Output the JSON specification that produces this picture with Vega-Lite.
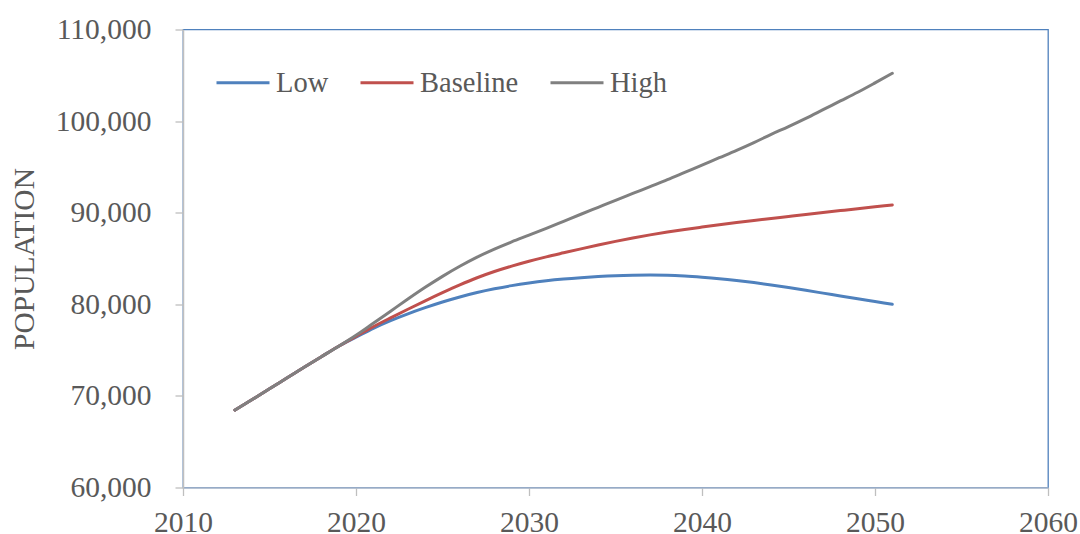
{
  "$schema": "https://vega.github.io/schema/vega-lite/v6.json",
  "autosize": "none",
  "width": 865,
  "height": 458,
  "padding": {"left": 183, "top": 29.5, "right": 32, "bottom": 46.5},
  "background": "white",
  "config": {
    "view": {"stroke": "#4F81BD", "strokeWidth": 1.3},
    "font": "Liberation Serif",
    "axis": {
      "labelFont": "Liberation Serif",
      "labelFontSize": 29.5,
      "labelColor": "#595959",
      "labelFlush": false,
      "titleFont": "Liberation Serif",
      "titleFontSize": 29.5,
      "titleFontWeight": "normal",
      "titleColor": "#595959",
      "grid": false,
      "tickColor": "#BFBFBF",
      "tickSize": 8,
      "tickWidth": 1.3,
      "domainWidth": 1.5
    },
    "legend": {
      "labelFont": "Liberation Serif",
      "labelFontSize": 28.5,
      "labelColor": "#595959"
    }
  },
  "data": {
    "values": [
      {"year": 2013, "series": "Low", "population": 68450},
      {"year": 2014, "series": "Low", "population": 69600},
      {"year": 2015, "series": "Low", "population": 70780},
      {"year": 2016, "series": "Low", "population": 71950},
      {"year": 2017, "series": "Low", "population": 73120},
      {"year": 2018, "series": "Low", "population": 74280},
      {"year": 2019, "series": "Low", "population": 75420},
      {"year": 2020, "series": "Low", "population": 76400},
      {"year": 2021, "series": "Low", "population": 77380},
      {"year": 2022, "series": "Low", "population": 78220},
      {"year": 2023, "series": "Low", "population": 78960},
      {"year": 2024, "series": "Low", "population": 79630},
      {"year": 2025, "series": "Low", "population": 80250},
      {"year": 2026, "series": "Low", "population": 80800},
      {"year": 2027, "series": "Low", "population": 81280},
      {"year": 2028, "series": "Low", "population": 81690},
      {"year": 2029, "series": "Low", "population": 82040},
      {"year": 2030, "series": "Low", "population": 82330},
      {"year": 2031, "series": "Low", "population": 82570},
      {"year": 2032, "series": "Low", "population": 82760},
      {"year": 2033, "series": "Low", "population": 82910},
      {"year": 2034, "series": "Low", "population": 83030},
      {"year": 2035, "series": "Low", "population": 83120},
      {"year": 2036, "series": "Low", "population": 83170},
      {"year": 2037, "series": "Low", "population": 83190},
      {"year": 2038, "series": "Low", "population": 83170},
      {"year": 2039, "series": "Low", "population": 83090},
      {"year": 2040, "series": "Low", "population": 82960},
      {"year": 2041, "series": "Low", "population": 82800},
      {"year": 2042, "series": "Low", "population": 82600},
      {"year": 2043, "series": "Low", "population": 82370},
      {"year": 2044, "series": "Low", "population": 82110},
      {"year": 2045, "series": "Low", "population": 81830},
      {"year": 2046, "series": "Low", "population": 81530},
      {"year": 2047, "series": "Low", "population": 81220},
      {"year": 2048, "series": "Low", "population": 80910},
      {"year": 2049, "series": "Low", "population": 80600},
      {"year": 2050, "series": "Low", "population": 80300},
      {"year": 2051, "series": "Low", "population": 80000},

      {"year": 2013, "series": "Baseline", "population": 68450},
      {"year": 2014, "series": "Baseline", "population": 69600},
      {"year": 2015, "series": "Baseline", "population": 70780},
      {"year": 2016, "series": "Baseline", "population": 71950},
      {"year": 2017, "series": "Baseline", "population": 73120},
      {"year": 2018, "series": "Baseline", "population": 74280},
      {"year": 2019, "series": "Baseline", "population": 75420},
      {"year": 2020, "series": "Baseline", "population": 76500},
      {"year": 2021, "series": "Baseline", "population": 77550},
      {"year": 2022, "series": "Baseline", "population": 78520},
      {"year": 2023, "series": "Baseline", "population": 79460},
      {"year": 2024, "series": "Baseline", "population": 80380},
      {"year": 2025, "series": "Baseline", "population": 81270},
      {"year": 2026, "series": "Baseline", "population": 82120},
      {"year": 2027, "series": "Baseline", "population": 82900},
      {"year": 2028, "series": "Baseline", "population": 83580},
      {"year": 2029, "series": "Baseline", "population": 84170},
      {"year": 2030, "series": "Baseline", "population": 84700},
      {"year": 2031, "series": "Baseline", "population": 85180},
      {"year": 2032, "series": "Baseline", "population": 85620},
      {"year": 2033, "series": "Baseline", "population": 86050},
      {"year": 2034, "series": "Baseline", "population": 86470},
      {"year": 2035, "series": "Baseline", "population": 86870},
      {"year": 2036, "series": "Baseline", "population": 87240},
      {"year": 2037, "series": "Baseline", "population": 87580},
      {"year": 2038, "series": "Baseline", "population": 87890},
      {"year": 2039, "series": "Baseline", "population": 88170},
      {"year": 2040, "series": "Baseline", "population": 88430},
      {"year": 2041, "series": "Baseline", "population": 88680},
      {"year": 2042, "series": "Baseline", "population": 88920},
      {"year": 2043, "series": "Baseline", "population": 89150},
      {"year": 2044, "series": "Baseline", "population": 89370},
      {"year": 2045, "series": "Baseline", "population": 89590},
      {"year": 2046, "series": "Baseline", "population": 89810},
      {"year": 2047, "series": "Baseline", "population": 90020},
      {"year": 2048, "series": "Baseline", "population": 90230},
      {"year": 2049, "series": "Baseline", "population": 90440},
      {"year": 2050, "series": "Baseline", "population": 90640},
      {"year": 2051, "series": "Baseline", "population": 90840},

      {"year": 2013, "series": "High", "population": 68450},
      {"year": 2014, "series": "High", "population": 69600},
      {"year": 2015, "series": "High", "population": 70780},
      {"year": 2016, "series": "High", "population": 71950},
      {"year": 2017, "series": "High", "population": 73120},
      {"year": 2018, "series": "High", "population": 74280},
      {"year": 2019, "series": "High", "population": 75420},
      {"year": 2020, "series": "High", "population": 76620},
      {"year": 2021, "series": "High", "population": 77930},
      {"year": 2022, "series": "High", "population": 79250},
      {"year": 2023, "series": "High", "population": 80570},
      {"year": 2024, "series": "High", "population": 81850},
      {"year": 2025, "series": "High", "population": 83050},
      {"year": 2026, "series": "High", "population": 84150},
      {"year": 2027, "series": "High", "population": 85150},
      {"year": 2028, "series": "High", "population": 86030},
      {"year": 2029, "series": "High", "population": 86820},
      {"year": 2030, "series": "High", "population": 87550},
      {"year": 2031, "series": "High", "population": 88290},
      {"year": 2032, "series": "High", "population": 89060},
      {"year": 2033, "series": "High", "population": 89830},
      {"year": 2034, "series": "High", "population": 90590},
      {"year": 2035, "series": "High", "population": 91350},
      {"year": 2036, "series": "High", "population": 92100},
      {"year": 2037, "series": "High", "population": 92850},
      {"year": 2038, "series": "High", "population": 93600},
      {"year": 2039, "series": "High", "population": 94400},
      {"year": 2040, "series": "High", "population": 95200},
      {"year": 2041, "series": "High", "population": 96000},
      {"year": 2042, "series": "High", "population": 96800},
      {"year": 2043, "series": "High", "population": 97650},
      {"year": 2044, "series": "High", "population": 98550},
      {"year": 2045, "series": "High", "population": 99400},
      {"year": 2046, "series": "High", "population": 100300},
      {"year": 2047, "series": "High", "population": 101250},
      {"year": 2048, "series": "High", "population": 102200},
      {"year": 2049, "series": "High", "population": 103150},
      {"year": 2050, "series": "High", "population": 104170},
      {"year": 2051, "series": "High", "population": 105220}
    ]
  },
  "mark": {"type": "line", "strokeWidth": 3, "strokeCap": "round", "strokeJoin": "round", "interpolate": "monotone", "clip": true},
  "encoding": {
    "x": {
      "field": "year",
      "type": "quantitative",
      "scale": {"domain": [2010, 2060], "nice": false, "zero": false},
      "axis": {
        "title": null,
        "values": [2010, 2020, 2030, 2040, 2050, 2060],
        "format": "d",
        "domainColor": "#AEBACB",
        "labelPadding": 13
      }
    },
    "y": {
      "field": "population",
      "type": "quantitative",
      "scale": {"domain": [60000, 110000], "nice": false, "zero": false},
      "axis": {
        "title": "POPULATION",
        "values": [60000, 70000, 80000, 90000, 100000, 110000],
        "format": ",d",
        "domainColor": "#BFBFBF",
        "labelPadding": 24,
        "titlePadding": 16
      }
    },
    "color": {
      "field": "series",
      "type": "nominal",
      "scale": {"domain": ["Low", "Baseline", "High"], "range": ["#4F81BD", "#C0504D", "#808080"]},
      "legend": {
        "title": null,
        "orient": "none",
        "direction": "horizontal",
        "legendX": 32,
        "legendY": 25,
        "symbolType": "stroke",
        "symbolStrokeWidth": 3,
        "symbolSize": 2809,
        "labelOffset": 5,
        "columnPadding": 25
      }
    }
  }
}
